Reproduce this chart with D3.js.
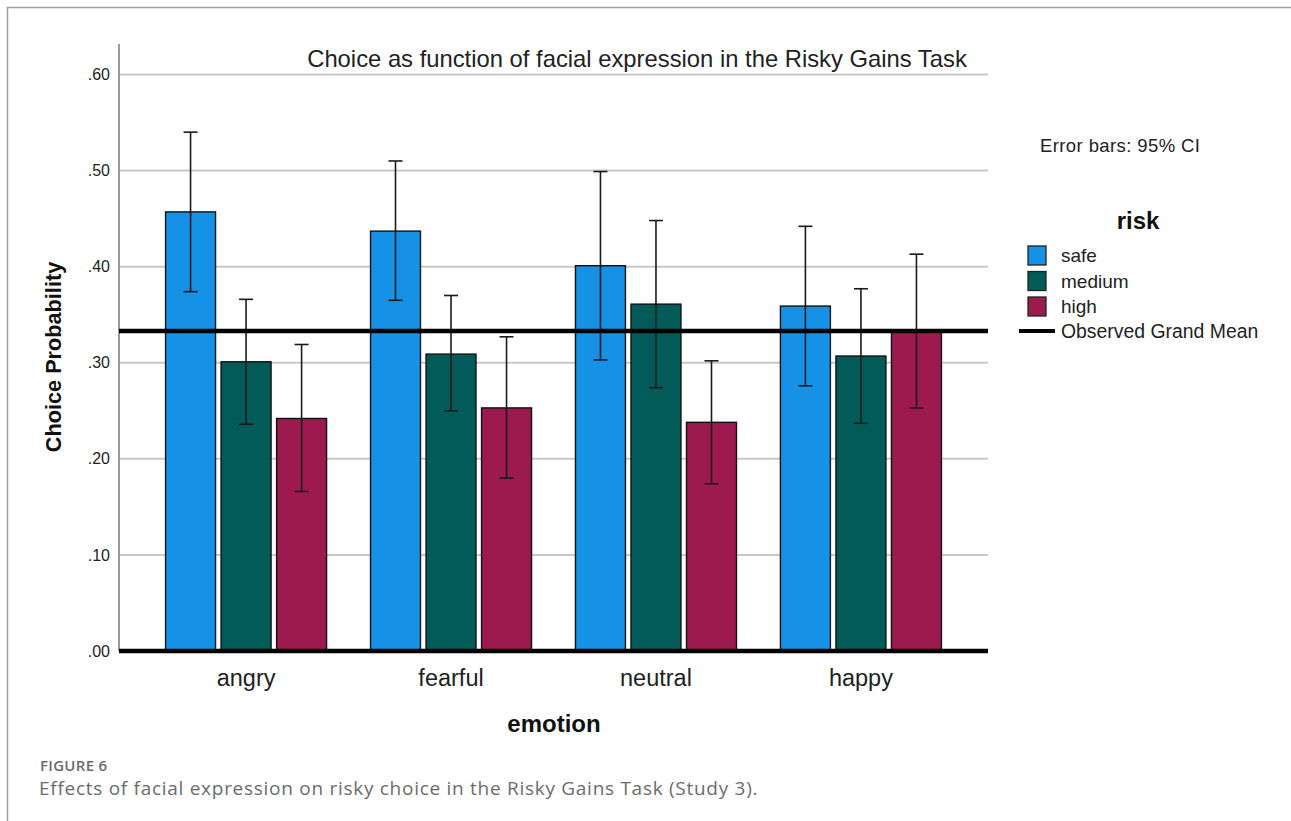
<!DOCTYPE html>
<html>
<head>
<meta charset="utf-8">
<script src="https://cdn.jsdelivr.net/npm/d3@7"></script>
<style>
  html, body { margin: 0; padding: 0; background: #fff; }
  svg { display: block; }
</style>
</head>
<body>
<svg id="chart" width="1291" height="821"></svg>
<script>
// Emotion categories and risk levels
const emotions = ["angry", "fearful", "neutral", "happy"];
const risks = ["safe", "medium", "high"];
const riskColors = ["#1592e6", "#025b59", "#9d1a4f"];

// Mean choice probability per emotion (rows) and risk level (columns)
const means = [
  [0.457, 0.301, 0.242],
  [0.437, 0.309, 0.253],
  [0.401, 0.361, 0.238],
  [0.359, 0.307, 0.332]
];
// 95% confidence interval bounds
const ciLow = [
  [0.374, 0.236, 0.166],
  [0.365, 0.250, 0.180],
  [0.303, 0.274, 0.174],
  [0.276, 0.237, 0.253]
];
const ciHigh = [
  [0.540, 0.366, 0.319],
  [0.510, 0.370, 0.327],
  [0.499, 0.448, 0.302],
  [0.442, 0.377, 0.413]
];
const grandMean = 0.333;
const yTicks = [0, 0.1, 0.2, 0.3, 0.4, 0.5, 0.6];

const svg = d3.select("#chart");
const font = "'Liberation Sans', Arial, sans-serif";
const capFont = "'Open Sans', 'Noto Sans', sans-serif";

// Figure frame (top and left edges)
svg.append("path")
  .attr("d", "M7.5,821 L7.5,7.5 L1291,7.5")
  .attr("fill", "none").attr("stroke", "#a0a0a0").attr("stroke-width", 1.5);

const plot = { left: 119, right: 988, top: 44, bottom: 651 };

const y = d3.scaleLinear().domain([0, 0.6]).range([plot.bottom, 74.5]);
const x0 = d3.scaleBand().domain(emotions).range([plot.left, plot.right])
  .paddingInner(0.2).paddingOuter(0.22);
const x1 = d3.scaleBand().domain(risks).range([0, 161]).paddingInner(0.1);

// Gridlines
svg.append("g").selectAll("line")
  .data(yTicks.filter(d => d > 0))
  .join("line")
  .attr("x1", plot.left).attr("x2", plot.right)
  .attr("y1", d => y(d)).attr("y2", d => y(d))
  .attr("stroke", "#c8c8c8").attr("stroke-width", 2);

// Y axis
const yAxis = svg.append("g")
  .attr("transform", `translate(${plot.left},0)`)
  .call(d3.axisLeft(y).tickValues(yTicks).tickSize(0).tickPadding(9)
    .tickFormat(d => d3.format(".2f")(d).replace(/^0/, "")));
yAxis.select(".domain").remove();
yAxis.selectAll("text")
  .attr("font-family", font).attr("font-size", 16).attr("fill", "#222");
svg.append("line")
  .attr("x1", plot.left).attr("x2", plot.left)
  .attr("y1", plot.top).attr("y2", plot.bottom)
  .attr("stroke", "#9a9a9a").attr("stroke-width", 2);

// Title
svg.append("text")
  .attr("x", 637).attr("y", 67)
  .attr("text-anchor", "middle")
  .attr("font-family", font).attr("font-size", 23.8).attr("fill", "#222")
  .text("Choice as function of facial expression in the Risky Gains Task");

// Bars
const groups = svg.append("g").selectAll("g")
  .data(emotions)
  .join("g")
  .attr("transform", d => `translate(${x0(d) + x0.bandwidth() / 2 - 80.5},0)`);

groups.each(function (emo, i) {
  const g = d3.select(this);
  const rows = risks.map((r, j) => ({ risk: r, j, mean: means[i][j] }));
  g.selectAll("rect")
    .data(rows)
    .join("rect")
    .attr("x", d => x1(d.risk))
    .attr("y", d => y(d.mean))
    .attr("width", x1.bandwidth())
    .attr("height", d => y(0) - y(d.mean))
    .attr("fill", d => riskColors[d.j])
    .attr("stroke", "#111").attr("stroke-width", 1.4);
});

// Grand mean reference line
svg.append("line")
  .attr("x1", plot.left).attr("x2", plot.right)
  .attr("y1", y(grandMean)).attr("y2", y(grandMean))
  .attr("stroke", "#000").attr("stroke-width", 4.5);

// Error bars
groups.each(function (emo, i) {
  const g = d3.select(this);
  const rows = risks.map((r, j) => ({
    cx: x1(r) + x1.bandwidth() / 2, lo: ciLow[i][j], hi: ciHigh[i][j]
  }));
  const eb = g.selectAll("g.eb").data(rows).join("g").attr("class", "eb")
    .attr("stroke", "#1a1a1a").attr("stroke-width", 1.6);
  eb.append("line")
    .attr("x1", d => d.cx).attr("x2", d => d.cx)
    .attr("y1", d => y(d.hi)).attr("y2", d => y(d.lo));
  eb.append("line")
    .attr("x1", d => d.cx - 7).attr("x2", d => d.cx + 7)
    .attr("y1", d => y(d.hi)).attr("y2", d => y(d.hi));
  eb.append("line")
    .attr("x1", d => d.cx - 7).attr("x2", d => d.cx + 7)
    .attr("y1", d => y(d.lo)).attr("y2", d => y(d.lo));
});

// X axis baseline
svg.append("line")
  .attr("x1", plot.left).attr("x2", plot.right)
  .attr("y1", y(0)).attr("y2", y(0))
  .attr("stroke", "#000").attr("stroke-width", 4.5);

const xAxis = svg.append("g")
  .attr("transform", `translate(0,${plot.bottom})`)
  .call(d3.axisBottom(x0).tickSize(0).tickPadding(18));
xAxis.select(".domain").remove();
xAxis.selectAll("text")
  .attr("font-family", font).attr("font-size", 23.5).attr("fill", "#222");

// Axis titles
svg.append("text")
  .attr("x", 554).attr("y", 732)
  .attr("text-anchor", "middle")
  .attr("font-family", font).attr("font-size", 24).attr("font-weight", "bold")
  .attr("fill", "#111")
  .text("emotion");

svg.append("text")
  .attr("transform", "translate(61,357) rotate(-90)")
  .attr("text-anchor", "middle")
  .attr("font-family", font).attr("font-size", 21.7).attr("font-weight", "bold")
  .attr("fill", "#111")
  .text("Choice Probability");

// Legend
svg.append("text")
  .attr("x", 1040).attr("y", 152)
  .attr("font-family", font).attr("font-size", 18.5).attr("letter-spacing", 0.4)
  .attr("fill", "#222")
  .text("Error bars: 95% CI");

svg.append("text")
  .attr("x", 1138).attr("y", 229)
  .attr("text-anchor", "middle")
  .attr("font-family", font).attr("font-size", 24).attr("font-weight", "bold")
  .attr("fill", "#111")
  .text("risk");

const leg = svg.append("g").selectAll("g")
  .data(risks)
  .join("g")
  .attr("transform", (d, i) => `translate(1028,${246 + i * 25.5})`);
leg.append("rect")
  .attr("width", 18).attr("height", 19)
  .attr("fill", (d, i) => riskColors[i])
  .attr("stroke", "#222").attr("stroke-width", 1.3);
leg.append("text")
  .attr("x", 33).attr("y", 16)
  .attr("font-family", font).attr("font-size", 19).attr("fill", "#222")
  .text(d => d);

svg.append("line")
  .attr("x1", 1019).attr("x2", 1055)
  .attr("y1", 331).attr("y2", 331)
  .attr("stroke", "#000").attr("stroke-width", 4);
svg.append("text")
  .attr("x", 1061).attr("y", 338)
  .attr("font-family", font).attr("font-size", 19.4).attr("fill", "#222")
  .text("Observed Grand Mean");

// Caption
svg.append("text")
  .attr("x", 40).attr("y", 771)
  .attr("font-family", capFont)
  .attr("font-size", 15).attr("font-weight", 600).attr("letter-spacing", 0.3)
  .attr("fill", "#6b6b6b")
  .text("FIGURE 6");
svg.append("text")
  .attr("x", 39).attr("y", 795)
  .attr("font-family", capFont)
  .attr("font-size", 19).attr("letter-spacing", 0.72).attr("fill", "#6b6b6b")
  .text("Effects of facial expression on risky choice in the Risky Gains Task (Study 3).");
</script>
</body>
</html>
